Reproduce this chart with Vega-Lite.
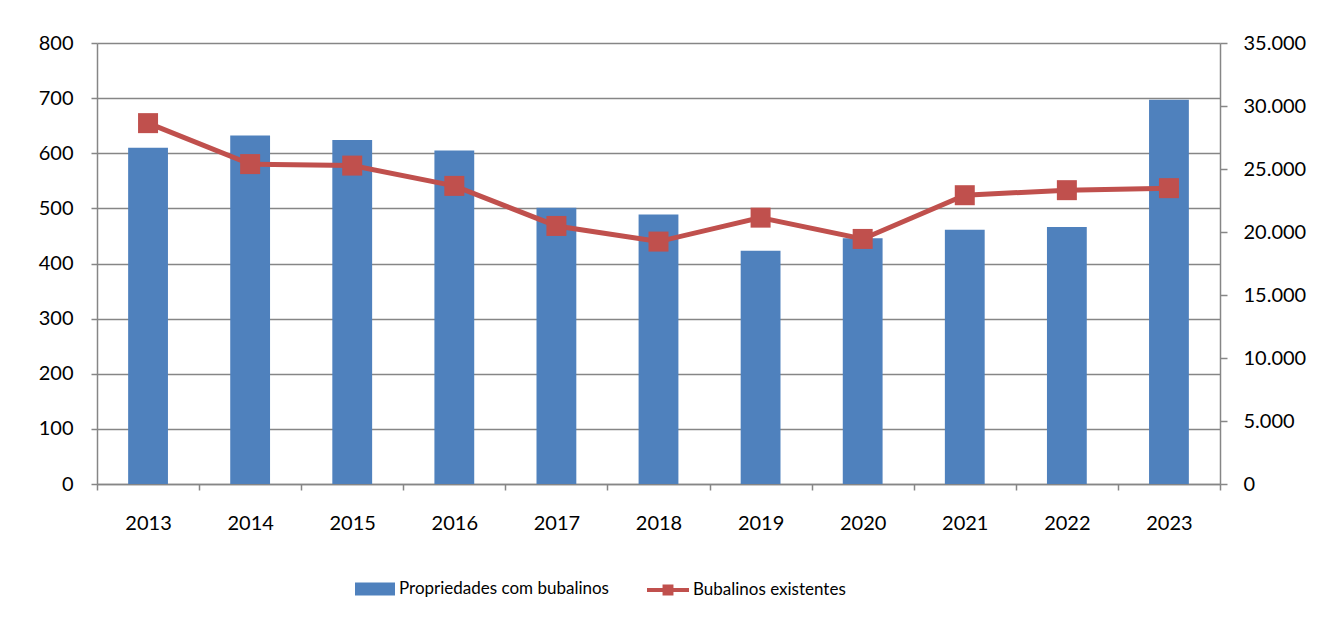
{
  "$schema": "https://vega.github.io/schema/vega-lite/v6.json",
  "width": 1123,
  "height": 441,
  "autosize": "none",
  "padding": {"left": 97, "top": 43, "right": 111, "bottom": 139},
  "background": "white",
  "config": {
    "view": {"stroke": null},
    "font": "Lato",
    "axis": {
      "labelFont": "Lato",
      "labelFontSize": 20,
      "labelColor": "#000000",
      "domainColor": "#868686",
      "tickColor": "#868686",
      "gridColor": "#868686",
      "domainWidth": 1.5,
      "tickWidth": 1.5,
      "gridWidth": 1.5,
      "title": null
    },
    "legend": {
      "labelFont": "Lato",
      "labelFontSize": 17,
      "labelColor": "#000000",
      "labelLimit": 500,
      "padding": 0,
      "title": null,
      "orient": "none"
    }
  },
  "data": {
    "values": [
      {"ano": "2013", "propriedades": 610, "bubalinos": 28640},
      {"ano": "2014", "propriedades": 632, "bubalinos": 25390},
      {"ano": "2015", "propriedades": 624, "bubalinos": 25270},
      {"ano": "2016", "propriedades": 605, "bubalinos": 23660},
      {"ano": "2017", "propriedades": 501, "bubalinos": 20480},
      {"ano": "2018", "propriedades": 489, "bubalinos": 19240},
      {"ano": "2019", "propriedades": 423, "bubalinos": 21140},
      {"ano": "2020", "propriedades": 446, "bubalinos": 19450},
      {"ano": "2021", "propriedades": 461, "bubalinos": 22920},
      {"ano": "2022", "propriedades": 466, "bubalinos": 23320},
      {"ano": "2023", "propriedades": 697, "bubalinos": 23480}
    ]
  },
  "encoding": {
    "x": {
      "field": "ano",
      "type": "ordinal",
      "scale": {"paddingInner": 0, "paddingOuter": 0},
      "axis": {
        "labelAngle": 0,
        "tickBand": "extent",
        "tickSize": 6,
        "labelPadding": 23,
        "grid": false
      }
    }
  },
  "layer": [
    {
      "mark": {"type": "bar", "width": {"band": 0.39}, "color": "#4F81BD"},
      "encoding": {
        "y": {
          "field": "propriedades",
          "type": "quantitative",
          "scale": {"domain": [0, 800], "nice": false},
          "axis": {
            "orient": "left",
            "values": [0, 100, 200, 300, 400, 500, 600, 700, 800],
            "grid": true,
            "tickSize": 6,
            "labelPadding": 18
          }
        },
        "fill": {
          "datum": "Propriedades com bubalinos",
          "scale": {"range": ["#4F81BD"]},
          "legend": {
            "orient": "none",
            "legendX": 258,
            "legendY": 526,
            "symbolType": "M-1,-0.33H1V0.33H-1Z",
            "symbolSize": 1600,
            "symbolStrokeWidth": 0,
            "labelOffset": 4
          }
        }
      }
    },
    {
      "mark": {
        "type": "line",
        "strokeWidth": 5,
        "color": "#C0504D",
        "point": {"shape": "square", "size": 400, "filled": true, "color": "#C0504D"}
      },
      "encoding": {
        "y": {
          "field": "bubalinos",
          "type": "quantitative",
          "scale": {"domain": [0, 35000], "nice": false},
          "axis": {
            "orient": "right",
            "values": [0, 5000, 10000, 15000, 20000, 25000, 30000, 35000],
            "grid": false,
            "tickSize": 7,
            "labelPadding": 16,
            "labelExpr": "replace(format(datum.value, ','), ',', '.')"
          }
        },
        "color": {
          "datum": "Bubalinos existentes",
          "scale": {"range": ["#C0504D"]},
          "legend": {
            "orient": "none",
            "legendX": 550,
            "legendY": 526,
            "symbolType": "M-1,-0.09H-0.26V-0.26H0.26V-0.09H1V0.09H0.26V0.26H-0.26V0.09H-1Z",
            "symbolSize": 1764,
            "symbolStrokeWidth": 0,
            "labelOffset": 4,
            "encode": {
              "symbols": {
                "update": {
                  "fill": {"value": "#C0504D"},
                  "stroke": {"value": "transparent"},
                  "strokeWidth": {"value": 0}
                }
              }
            }
          }
        }
      }
    }
  ],
  "resolve": {"scale": {"y": "independent"}}
}
